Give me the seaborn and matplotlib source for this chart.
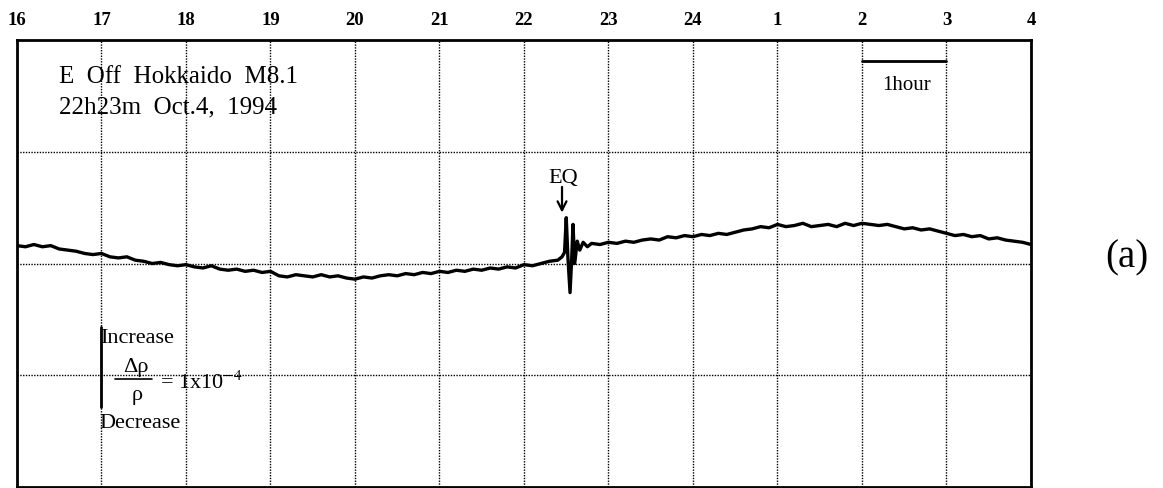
import numpy as np
import pandas as pd
import matplotlib
matplotlib.use('Agg')
import matplotlib.pyplot as plt
import seaborn as sns

# clock hours along the top, 16h on Oct.4 through 4h on Oct.5
hour_ticks = list(range(16, 29))
hour_labels = ['16', '17', '18', '19', '20', '21', '22', '23', '24', '1', '2', '3', '4']

# recorder trace, in chart divisions (0 = bottom edge, 4 = top edge)
pre_hours = np.round(np.arange(16.0, 22.41, 0.1), 2)
pre_level = [
    2.16, 2.15, 2.17, 2.15, 2.16, 2.13, 2.12, 2.11, 2.09, 2.08,
    2.09, 2.06, 2.05, 2.06, 2.03, 2.02, 2.00, 2.01, 1.99, 1.98,
    1.99, 1.97, 1.96, 1.98, 1.95, 1.94, 1.95, 1.93, 1.94, 1.92,
    1.93, 1.89, 1.88, 1.90, 1.89, 1.88, 1.90, 1.88, 1.89, 1.87,
    1.86, 1.88, 1.87, 1.89, 1.90, 1.89, 1.91, 1.90, 1.92, 1.91,
    1.93, 1.92, 1.94, 1.93, 1.95, 1.94, 1.96, 1.95, 1.97, 1.96,
    1.99, 1.98, 2.00, 2.02, 2.03,
]
eq_hours = [22.45, 22.48, 22.50, 22.52, 22.545, 22.565, 22.58, 22.60,
            22.63, 22.66, 22.70, 22.75, 22.80]
eq_level = [2.06, 2.10, 2.41, 2.05, 1.74, 2.05, 2.35, 2.00,
            2.20, 2.12, 2.19, 2.15, 2.18]
post_hours = np.round(np.arange(22.9, 28.01, 0.1), 2)
post_level = [
    2.17,
    2.19, 2.18, 2.20, 2.19, 2.21, 2.22, 2.21, 2.24, 2.23, 2.25,
    2.24, 2.26, 2.25, 2.27, 2.26, 2.28, 2.30, 2.31, 2.33, 2.32,
    2.35, 2.33, 2.34, 2.36, 2.33, 2.34, 2.35, 2.33, 2.36, 2.34,
    2.36, 2.35, 2.34, 2.35, 2.33, 2.31, 2.32, 2.30, 2.31, 2.29,
    2.27, 2.25, 2.26, 2.24, 2.25, 2.22, 2.23, 2.21, 2.20, 2.19,
    2.17,
]

trace = pd.DataFrame({
    'hour': np.concatenate([pre_hours, eq_hours, post_hours]),
    'level': pre_level + eq_level + post_level,
})

sns.set_theme(style='white')
plt.rcParams['font.family'] = ['Liberation Serif', 'DejaVu Serif']
plt.rcParams['mathtext.fontset'] = 'stix'
plt.rcParams['text.color'] = 'black'
plt.rcParams['xtick.color'] = 'black'

fig = plt.figure(figsize=(11.63, 4.88), dpi=100)
ax = fig.add_axes([0.0146, 0.002, 0.8719, 0.916])

sns.lineplot(data=trace, x='hour', y='level', ax=ax, color='black',
             lw=2.4, estimator=None, sort=False)

ax.set_xlim(16, 28)
ax.set_ylim(0, 4)
ax.set_xticks(hour_ticks)
ax.set_xticklabels(hour_labels, fontsize=13.5, fontweight='bold')
ax.xaxis.tick_top()
ax.set_yticks([1, 2, 3])
ax.set_yticklabels([])
ax.tick_params(length=0)
ax.tick_params(axis='x', pad=8)
ax.set_xlabel('')
ax.set_ylabel('')
ax.grid(True, color='black', linestyle=(0, (1, 1)), lw=1.0)
for s in ax.spines.values():
    s.set_color('black')
    s.set_linewidth(2)

# title block
ax.text(16.50, 3.615, 'E  Off  Hokkaido  M8.1', fontsize=18, va='baseline')
ax.text(16.50, 3.347, '22h23m  Oct.4,  1994', fontsize=18, va='baseline')

# one hour scale bar
ax.plot([26, 27], [3.81, 3.81], color='black', lw=2)
ax.text(26.53, 3.553, '1hour', fontsize=15, ha='center', va='baseline')

# earthquake marker
ax.text(22.46, 2.72, 'EQ', fontsize=16, ha='center', va='baseline')
ax.annotate('', xy=(22.45, 2.43), xytext=(22.45, 2.71),
            arrowprops=dict(arrowstyle='->', color='black', lw=1.6,
                            mutation_scale=16))

# amplitude scale
ax.plot([16.99, 16.99], [0.72, 1.43], color='black', lw=2)
ax.text(16.99, 1.289, 'Increase', fontsize=16, va='baseline')
ax.text(17.41, 1.03, 'Δρ', fontsize=16, ha='center', va='baseline')
ax.plot([17.16, 17.60], [0.97, 0.97], color='black', lw=1.2)
ax.text(17.42, 0.78, 'ρ', fontsize=16, ha='center', va='baseline')
ax.text(17.69, 0.877, '= 1x10$^{-4}$', fontsize=16, va='baseline')
ax.text(16.98, 0.528, 'Decrease', fontsize=16, va='baseline')

fig.text(0.969, 0.453, '(a)', fontsize=28, ha='center', va='baseline')

fig.savefig('out.png', dpi=100, facecolor='white')
